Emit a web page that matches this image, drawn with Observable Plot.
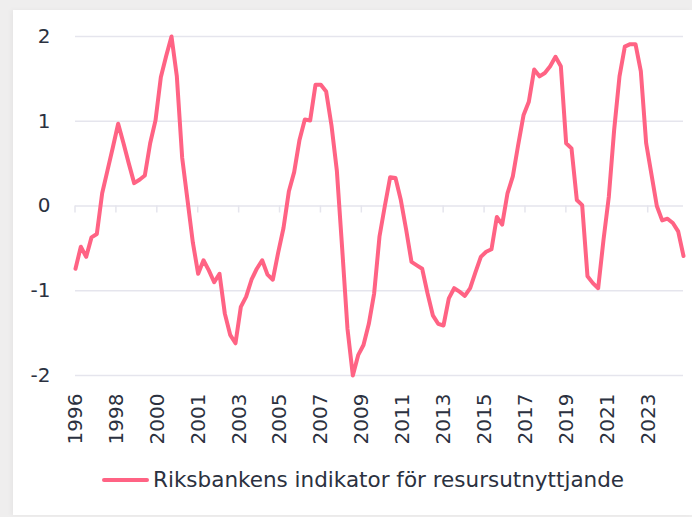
<!DOCTYPE html>
<html><head><meta charset="utf-8">
<script src="https://cdn.jsdelivr.net/npm/d3@7"></script>
<script src="https://cdn.jsdelivr.net/npm/@observablehq/plot@0.6"></script>
<style>
html,body{margin:0;padding:0;background:#efeeee;width:692px;height:517px;overflow:hidden}
#card{position:absolute;left:13px;top:10px;width:679px;height:505px;background:#fff;box-shadow:-2px 0 5px rgba(0,0,0,0.04)}
#chart{position:absolute;left:0;top:0}
#legend{position:absolute;left:89px;top:457px;display:flex;align-items:center;font-family:'DejaVu Sans',sans-serif;font-size:21.5px;color:#2b3140;white-space:nowrap}
#legend .swatch{width:47px;height:4px;border-radius:2px;margin-right:4px}
</style></head><body>
<div id="card"><div id="chart"></div><div id="legend"></div></div>
<script>
// Quarterly values, 1996Q1 – 2024Q3
const startYear = 1996;
const values = [
  -0.74, -0.48, -0.60, -0.37, -0.33, 0.15, 0.42, 0.69,
   0.97,  0.74,  0.50,  0.27,  0.31, 0.36, 0.74, 1.01,
   1.52,  1.77,  2.00,  1.53,  0.57, 0.07, -0.43, -0.80,
  -0.64, -0.76, -0.90, -0.80, -1.27, -1.52, -1.62, -1.19,
  -1.07, -0.87, -0.74, -0.64, -0.81, -0.87, -0.55, -0.26,
   0.17,  0.40,  0.78,  1.02,  1.01, 1.43, 1.43, 1.35,
   0.95,  0.42, -0.50, -1.45, -2.00, -1.76, -1.64, -1.39,
  -1.03, -0.36,  0.00,  0.34,  0.33, 0.07, -0.28, -0.66,
  -0.70, -0.74, -1.03, -1.29, -1.39, -1.41, -1.09, -0.97,
  -1.01, -1.06, -0.97, -0.78, -0.60, -0.54, -0.51, -0.13,
  -0.22,  0.15,  0.35,  0.72,  1.07, 1.23, 1.61, 1.53,
   1.57,  1.65,  1.76,  1.65,  0.74, 0.68, 0.07, 0.01,
  -0.83, -0.91, -0.97, -0.40,  0.11, 0.90, 1.53, 1.88,
   1.91,  1.91,  1.59,  0.74,  0.37, 0.00, -0.17, -0.15,
  -0.20, -0.30, -0.59
];
const tickLabels = ["1996","1998","2000","2001","2003","2005","2007","2009","2011","2013","2015","2017","2019","2021","2023"];
const tickStep = 7.67; // quarters between labelled ticks
const yTicks = [-2, -1, 0, 1, 2];
const seriesName = "Riksbankens indikator för resursutnyttjande";
const lineColor = "#ff6384";
const gridColor = "#e5e5ed";
const textColor = "#2b3140";

const data = values.map((v, i) => ({i, v, quarter: `${startYear + Math.floor(i / 4)}Q${i % 4 + 1}`}));
const tickPos = tickLabels.map((_, k) => k * tickStep);

const chart = Plot.plot({
  width: 679,
  height: 440,
  marginLeft: 62,
  marginRight: 9,
  marginTop: 26,
  marginBottom: 75,
  style: {fontFamily: "'DejaVu Sans', sans-serif", fontSize: "20px", color: textColor, background: "transparent", overflow: "visible"},
  x: {domain: [0, values.length - 1], label: null},
  y: {domain: [-2, 2], label: null},
  marks: [
    Plot.ruleY(yTicks, {stroke: gridColor, strokeWidth: 1.5}),
    Plot.axisY(yTicks, {tickSize: 0, tickPadding: 25, tickFormat: d => String(d)}),
    Plot.axisX(tickPos, {tickSize: 0, tickRotate: -90, tickPadding: 18, tickFormat: d => tickLabels[Math.round(d / tickStep)]}),
    Plot.line(data, {x: "i", y: "v", stroke: lineColor, strokeWidth: 4, strokeLinejoin: "round", strokeLinecap: "round"})
  ]
});

// small tick marks hanging from the zero line, placed with Plot's own scales
const sx = chart.scale("x"), sy = chart.scale("y");
const y0 = sy.apply(0);
const g = d3.select(chart).insert("g", ":first-child").attr("stroke", gridColor).attr("stroke-width", 1.5);
tickPos.forEach(t => {
  const x = sx.apply(t);
  g.append("line").attr("x1", x).attr("x2", x).attr("y1", y0).attr("y2", y0 + 7);
});

document.getElementById("chart").appendChild(chart);

const legend = document.getElementById("legend");
legend.innerHTML = `<span class="swatch" style="background:${lineColor}"></span><span>${seriesName}</span>`;
</script>
</body></html>
